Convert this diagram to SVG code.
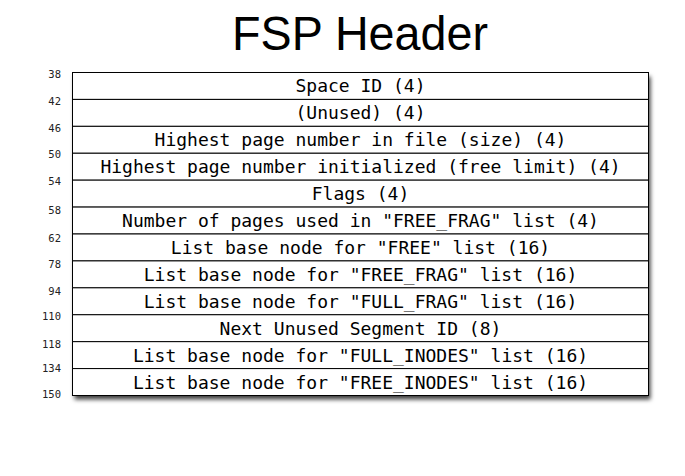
<svg xmlns="http://www.w3.org/2000/svg" width="685" height="476" viewBox="0 0 685 476">
<style>
.title{font-family:"Liberation Sans",Arial,sans-serif;font-size:49px;fill:#000}
.off{font-family:"DejaVu Sans Mono","Liberation Mono",monospace;font-size:10.5px;fill:#222;text-anchor:end}
.lbl{font-family:"DejaVu Sans Mono","Liberation Mono",monospace;font-size:18px;fill:#000;text-anchor:middle}
.row{fill:#fff;stroke:#000;stroke-width:1}
</style>
<defs>
<filter id="sh" x="-10%" y="-10%" width="120%" height="130%">
<feDropShadow dx="2" dy="4" stdDeviation="2.2" flood-color="#000" flood-opacity="0.75"/>
</filter>
</defs>
<rect width="685" height="476" fill="#fff"/>
<text class="title" x="360" y="50" text-anchor="middle" textLength="256" lengthAdjust="spacingAndGlyphs">FSP Header</text>
<rect x="72.5" y="72.5" width="576" height="323" fill="#fff" filter="url(#sh)"/>
<g id="offsets">
<text class="off" x="61" y="78">38</text>
<text class="off" x="61" y="105">42</text>
<text class="off" x="61" y="132">46</text>
<text class="off" x="61" y="158">50</text>
<text class="off" x="61" y="185">54</text>
<text class="off" x="61" y="214">58</text>
<text class="off" x="61" y="242">62</text>
<text class="off" x="61" y="268">78</text>
<text class="off" x="61" y="295">94</text>
<text class="off" x="61" y="320">110</text>
<text class="off" x="61" y="348">118</text>
<text class="off" x="61" y="372">134</text>
<text class="off" x="61" y="398">150</text>
</g>
<g id="r1"><rect class="row" x="72.5" y="72.5" width="576" height="26.92"/><text class="lbl" x="360.5" y="92">Space ID (4)</text></g>
<g id="r2"><rect class="row" x="72.5" y="99.42" width="576" height="26.92"/><text class="lbl" x="360.5" y="119">(Unused) (4)</text></g>
<g id="r3"><rect class="row" x="72.5" y="126.33" width="576" height="26.92"/><text class="lbl" x="360.5" y="146">Highest page number in file (size) (4)</text></g>
<g id="r4"><rect class="row" x="72.5" y="153.25" width="576" height="26.92"/><text class="lbl" x="360.5" y="173">Highest page number initialized (free limit) (4)</text></g>
<g id="r5"><rect class="row" x="72.5" y="180.17" width="576" height="26.92"/><text class="lbl" x="360.5" y="200">Flags (4)</text></g>
<g id="r6"><rect class="row" x="72.5" y="207.08" width="576" height="26.92"/><text class="lbl" x="360.5" y="227">Number of pages used in "FREE_FRAG" list (4)</text></g>
<g id="r7"><rect class="row" x="72.5" y="234" width="576" height="26.92"/><text class="lbl" x="360.5" y="254">List base node for "FREE" list (16)</text></g>
<g id="r8"><rect class="row" x="72.5" y="260.92" width="576" height="26.92"/><text class="lbl" x="360.5" y="281">List base node for "FREE_FRAG" list (16)</text></g>
<g id="r9"><rect class="row" x="72.5" y="287.83" width="576" height="26.92"/><text class="lbl" x="360.5" y="308">List base node for "FULL_FRAG" list (16)</text></g>
<g id="r10"><rect class="row" x="72.5" y="314.75" width="576" height="26.92"/><text class="lbl" x="360.5" y="335">Next Unused Segment ID (8)</text></g>
<g id="r11"><rect class="row" x="72.5" y="341.67" width="576" height="26.92"/><text class="lbl" x="360.5" y="362">List base node for "FULL_INODES" list (16)</text></g>
<g id="r12"><rect class="row" x="72.5" y="368.58" width="576" height="26.92"/><text class="lbl" x="360.5" y="389">List base node for "FREE_INODES" list (16)</text></g>
<g id="connectors"></g>
</svg>
